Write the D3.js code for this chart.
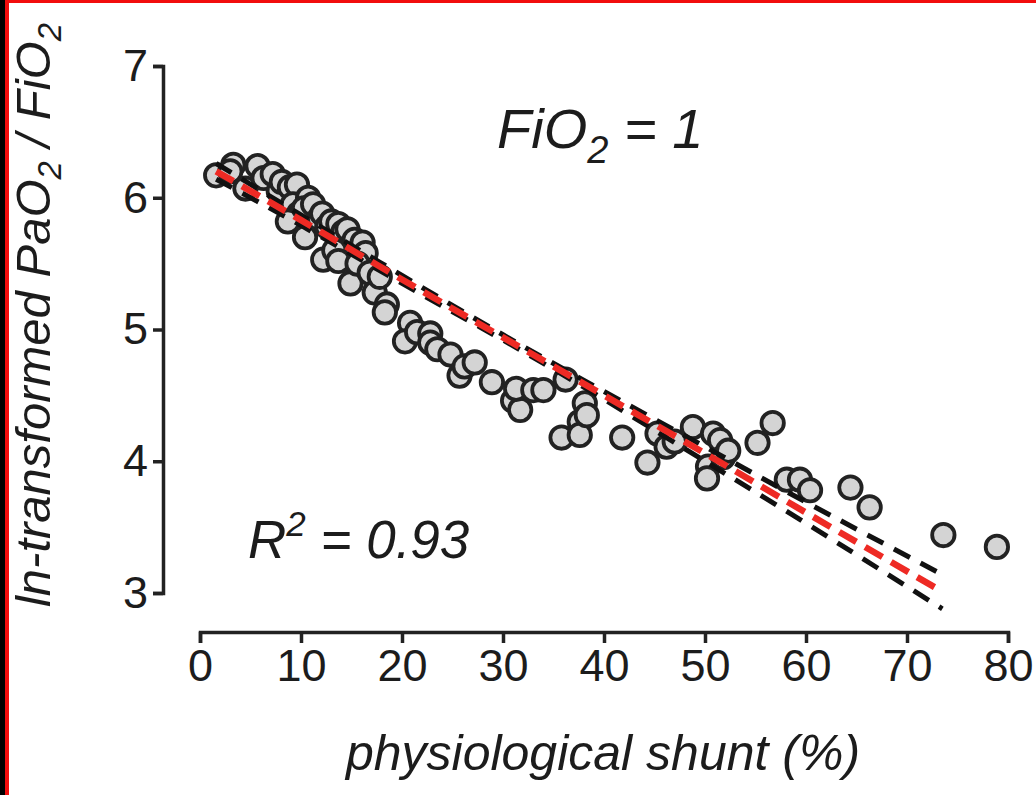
<!DOCTYPE html>
<html>
<head>
<meta charset="utf-8">
<script src="https://cdn.jsdelivr.net/npm/d3@7"></script>
<style>
  html, body { margin: 0; padding: 0; background: #fff; }
  svg { display: block; }
  text { font-family: "Liberation Sans", Arial, Helvetica, sans-serif; fill: #1c1c1c; }
</style>
</head>
<body>
<svg id="chart"></svg>
<script>
// physiological shunt (%) vs ln-transformed PaO2/FiO2
const shunt = [1.6, 3.3, 3.0, 4.5, 5.7, 6.3, 7.2, 7.8, 8.1, 8.9, 9.6, 9.2, 9.8, 8.7, 10.7, 10.3, 10.4,
  11.2, 11.8, 12.1, 12.6, 13.0, 13.7, 14.2, 14.6, 15.3, 16.1, 16.4, 12.2, 13.3, 13.7, 14.9, 15.6, 16.8, 17.3, 17.8, 18.5, 18.3,
  20.8, 20.3, 21.5, 22.8, 22.8, 23.5, 24.8, 25.7, 26.2, 27.2, 28.9, 31.0, 31.7, 31.3, 33.0, 34.0, 36.2, 38.1, 37.6, 35.8, 37.6, 38.3,
  41.8, 44.3, 45.3, 46.2, 47.0, 48.8, 50.8, 51.5, 50.3, 50.2, 51.8, 52.3, 55.2, 56.7, 58.1, 59.4, 60.4, 64.4, 66.3, 73.6, 78.9];
const lnRatio = [6.17, 6.25, 6.20, 6.07, 6.24, 6.15, 6.18, 6.05, 6.12, 6.08, 6.10, 5.95, 5.88, 5.82, 6.00, 5.92, 5.70,
  5.95, 5.84, 5.88, 5.78, 5.82, 5.80, 5.74, 5.76, 5.68, 5.66, 5.58, 5.53, 5.60, 5.52, 5.35, 5.50, 5.43, 5.28, 5.40, 5.19, 5.13,
  5.05, 4.91, 4.98, 4.97, 4.90, 4.85, 4.81, 4.65, 4.72, 4.75, 4.60, 4.46, 4.39, 4.55, 4.54, 4.54, 4.62, 4.44, 4.30, 4.18, 4.20, 4.35,
  4.18, 3.99, 4.21, 4.11, 4.15, 4.26, 4.21, 4.16, 3.96, 3.87, 4.03, 4.08, 4.14, 4.29, 3.86, 3.86, 3.78, 3.80, 3.65, 3.44, 3.35];

// regression line and 95% band
const fitX = [1.6, 10, 20, 30, 40, 50, 60, 73.5];
const fitY = [6.20, 5.83, 5.38, 4.94, 4.50, 4.06, 3.61, 3.01];
const bandUpper = [6.26, 5.87, 5.41, 4.96, 4.53, 4.11, 3.69, 3.14];
const bandLower = [6.14, 5.79, 5.35, 4.92, 4.47, 4.00, 3.53, 2.88];

const xTicks = [0, 10, 20, 30, 40, 50, 60, 70, 80];
const yTicks = [3, 4, 5, 6, 7];

const W = 1036, H = 795;
const svg = d3.select('#chart').attr('width', W).attr('height', H);

svg.append('rect').attr('width', W).attr('height', H).attr('fill', '#fff');
// frame edges
svg.append('rect').attr('x', 0).attr('y', 0).attr('width', W).attr('height', 3).attr('fill', '#f20d0d');
svg.append('rect').attr('x', 0).attr('y', 0).attr('width', 5).attr('height', H).attr('fill', '#000');
svg.append('rect').attr('x', 5).attr('y', 0).attr('width', 4).attr('height', H).attr('fill', '#f20d0d');

const x = d3.scaleLinear().domain([0, 80]).range([200, 1008]);
const y = d3.scaleLinear().domain([3, 7]).range([593, 66]);

// axes
const yAxis = d3.axisLeft(y).tickValues(yTicks).tickFormat(d3.format('d'))
  .tickSize(10).tickSizeOuter(10).tickPadding(5);
const gy = svg.append('g').attr('transform', 'translate(163,0)').call(yAxis);
const xAxis = d3.axisBottom(x).tickValues(xTicks).tickFormat(d3.format('d'))
  .tickSize(11).tickSizeOuter(11).tickPadding(6);
const gx = svg.append('g').attr('transform', 'translate(0,632)').call(xAxis);

[gx, gy].forEach(g => {
  g.select('.domain').attr('stroke', '#222').attr('stroke-width', 3.5);
  g.selectAll('.tick line').attr('stroke', '#222').attr('stroke-width', 3.5);
  g.selectAll('.tick text').attr('font-size', 45).attr('fill', '#1c1c1c')
    .attr('font-family', '"Liberation Sans", Arial, sans-serif');
});

// points
const pts = shunt.map((s, i) => ({ s, v: lnRatio[i] }));
svg.append('g').selectAll('circle').data(pts).enter().append('circle')
  .attr('cx', d => x(d.s))
  .attr('cy', d => y(d.v))
  .attr('r', 11.2)
  .attr('fill', '#d4d4d4')
  .attr('stroke', '#222')
  .attr('stroke-width', 3.8);

// fit and band
const line = d3.line().x(d => x(d[0])).y(d => y(d[1])).curve(d3.curveNatural);
[bandUpper, bandLower].forEach(b => {
  svg.append('path')
    .attr('d', line(fitX.map((v, i) => [v, b[i]])))
    .attr('fill', 'none')
    .attr('stroke', '#111')
    .attr('stroke-width', 5)
    .attr('stroke-dasharray', '18,12');
});
svg.append('path')
  .attr('d', line(fitX.map((v, i) => [v, fitY[i]])))
  .attr('fill', 'none')
  .attr('stroke', '#ee2a24')
  .attr('stroke-width', 6.5)
  .attr('stroke-dasharray', '20,10');

// annotations
const fio = svg.append('text').attr('x', 497).attr('y', 148)
  .attr('font-size', 56).attr('font-style', 'italic');
fio.append('tspan').text('FiO');
fio.append('tspan').attr('font-size', 38).attr('dy', 15).text('2');
fio.append('tspan').attr('dy', -15).text(' = 1');

const r2 = svg.append('text').attr('x', 248).attr('y', 558)
  .attr('font-size', 53).attr('font-style', 'italic');
r2.append('tspan').text('R');
r2.append('tspan').attr('font-size', 35).attr('dy', -22).text('2');
r2.append('tspan').attr('dy', 22).text(' = 0.93');

// axis titles
svg.append('text')
  .attr('x', 603).attr('y', 770)
  .attr('text-anchor', 'middle')
  .attr('font-size', 50).attr('font-style', 'italic')
  .text('physiological shunt (%)');

const yt = svg.append('text')
  .attr('transform', 'translate(50,315) rotate(-90)')
  .attr('text-anchor', 'middle')
  .attr('font-size', 49).attr('font-style', 'italic');
yt.append('tspan').text('ln-transformed PaO');
yt.append('tspan').attr('font-size', 33).attr('dy', 11).text('2');
yt.append('tspan').attr('dy', -11).text(' / FiO');
yt.append('tspan').attr('font-size', 33).attr('dy', 11).text('2');
</script>
</body>
</html>
